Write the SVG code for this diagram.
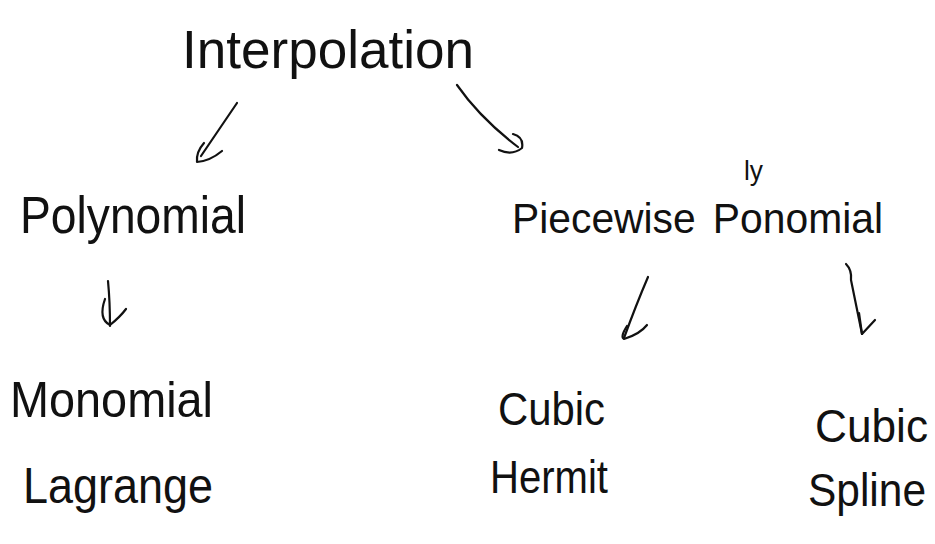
<svg xmlns="http://www.w3.org/2000/svg" width="935" height="544" viewBox="0 0 935 544">
  <style>
    .t { font-family: "Liberation Sans", "DejaVu Sans", sans-serif; fill: #111; }
    .c { fill: none; stroke: #111; stroke-width: 2.2; stroke-linecap: round; stroke-linejoin: round; }
  </style>
  <rect width="935" height="544" fill="#ffffff"/>
  <g id="connectors">
    <path class="c" d="M237,103 Q220,128 201,156"/>
    <path class="c" d="M204,143 Q196,152 197,162 Q210,161 222,151"/>
    <path class="c" d="M457,85 Q480,118 518,147"/>
    <path class="c" d="M499,150 Q512,156 522,148 Q524,137 513,134"/>
    <path class="c" d="M108,281 Q110,302 110,326"/>
    <path class="c" d="M105,299 Q98,319 110,325 Q120,317 126,309"/>
    <path class="c" d="M648,277 Q636,305 624,338"/>
    <path class="c" d="M627,326 Q620,337 624,339 Q640,334 647,325"/>
    <path class="c" d="M846,264 Q852,270 851,280 L862,334"/>
    <path class="c" d="M859,313 L862,334 L875,320"/>
  </g>
  <g id="interpolation">
    <text class="t" x="182" y="68" font-size="54" textLength="292" lengthAdjust="spacingAndGlyphs">Interpolation</text>
  </g>
  <g id="polynomial">
    <text class="t" x="20" y="233" font-size="52" textLength="226" lengthAdjust="spacingAndGlyphs">Polynomial</text>
  </g>
  <g id="piecewise-polynomial">
    <text class="t" x="512" y="233" font-size="42" word-spacing="6" textLength="371" lengthAdjust="spacingAndGlyphs">Piecewise Ponomial</text>
    <text class="t" x="744" y="180" font-size="28" textLength="19" lengthAdjust="spacingAndGlyphs">ly</text>
  </g>
  <g id="monomial-lagrange">
    <text class="t" x="10" y="417" font-size="50" textLength="203" lengthAdjust="spacingAndGlyphs">Monomial</text>
    <text class="t" x="23" y="503" font-size="50" textLength="190" lengthAdjust="spacingAndGlyphs">Lagrange</text>
  </g>
  <g id="cubic-hermit">
    <text class="t" x="498" y="425" font-size="46" textLength="107" lengthAdjust="spacingAndGlyphs">Cubic</text>
    <text class="t" x="490" y="493" font-size="46" textLength="118" lengthAdjust="spacingAndGlyphs">Hermit</text>
  </g>
  <g id="cubic-spline">
    <text class="t" x="815" y="442" font-size="46" textLength="113" lengthAdjust="spacingAndGlyphs">Cubic</text>
    <text class="t" x="808" y="506" font-size="46" textLength="118" lengthAdjust="spacingAndGlyphs">Spline</text>
  </g>
</svg>
